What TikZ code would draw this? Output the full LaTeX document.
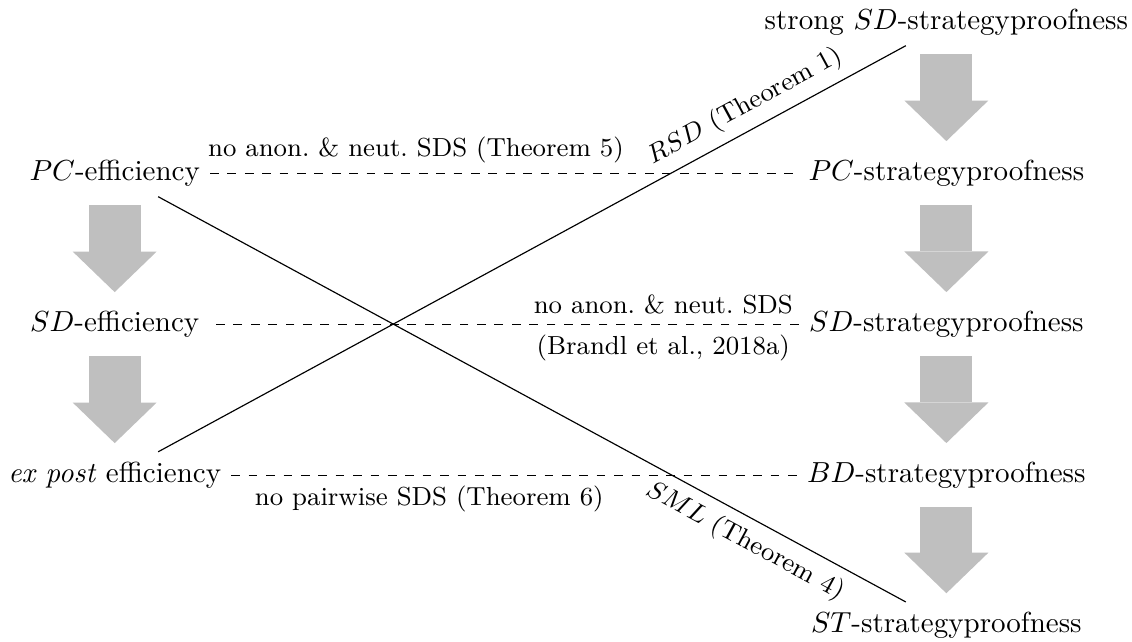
\documentclass[tikz,border=0pt]{standalone}
\usetikzlibrary{arrows.meta}
\begin{document}
\begin{tikzpicture}[freccia/.style={line width=18pt,gray!50,-{Triangle[width=29pt,length=14pt,line width=0pt]}},
    etichetta/.style={font=\small}]
    % colonne: x=1.39 (efficienza), x=11.47 (strategyproofness); righe ogni 1.83
    \useasboundingbox (0,0) rectangle (13.72,7.77); % margini
    \node (pceff) at (1.39,5.67) {$PC$-efficiency}; % colonna sinistra
    \node (sdeff) at (1.39,3.84) {$SD$-efficiency};
    \node (expost) at (1.39,2.01) {\emph{ex post} efficiency};
    \node (strongsd) at (11.47,7.50) {strong $SD$-strategyproofness}; % colonna destra
    \node (pcsp) at (11.47,5.67) {$PC$-strategyproofness};
    \node (sdsp) at (11.47,3.84) {$SD$-strategyproofness};
    \node (bdsp) at (11.47,2.01) {$BD$-strategyproofness};
    \node (stsp) at (11.47,0.19) {$ST$-strategyproofness};
    \draw [freccia] ([yshift=-3pt]pceff.south) -- ([yshift=3pt]sdeff.north); % implicazioni a sinistra
    \draw [freccia] ([yshift=-3pt]sdeff.south) -- ([yshift=3pt]expost.north);
    \draw [freccia] ([yshift=-3pt]strongsd.south) -- ([yshift=3pt]pcsp.north); % implicazioni a destra
    \draw [freccia] ([yshift=-3pt]pcsp.south) -- ([yshift=3pt]sdsp.north);
    \draw [freccia] ([yshift=-3pt]sdsp.south) -- ([yshift=3pt]bdsp.north);
    \draw [freccia] ([yshift=-3pt]bdsp.south) -- ([yshift=3pt]stsp.north);
    \draw [dashed] (pceff) -- node[etichetta,above,pos=0.35] {no anon.\ \& neut.\ SDS (Theorem 5)} (pcsp); % impossibilita
    \draw [dashed] (sdsp) -- node[etichetta,above,pos=0.23] {no anon.\ \& neut.\ SDS}
        node[etichetta,below,pos=0.23] {(Brandl et al., 2018a)} (sdeff);
    \draw [dashed] (expost) -- node[etichetta,below,pos=0.35] {no pairwise SDS (Theorem 6)} (bdsp);
    \draw ([xshift=15pt]expost.north) -- node[etichetta,sloped,above,pos=0.8] {$RSD$ (Theorem 1)} ([xshift=-14pt]strongsd.south); % RSD
    \draw ([xshift=15pt]pceff.south) -- node[etichetta,sloped,below,pos=0.8] {$SML$ (Theorem 4)} ([xshift=-14pt]stsp.north); % SML
\end{tikzpicture}
\end{document}
